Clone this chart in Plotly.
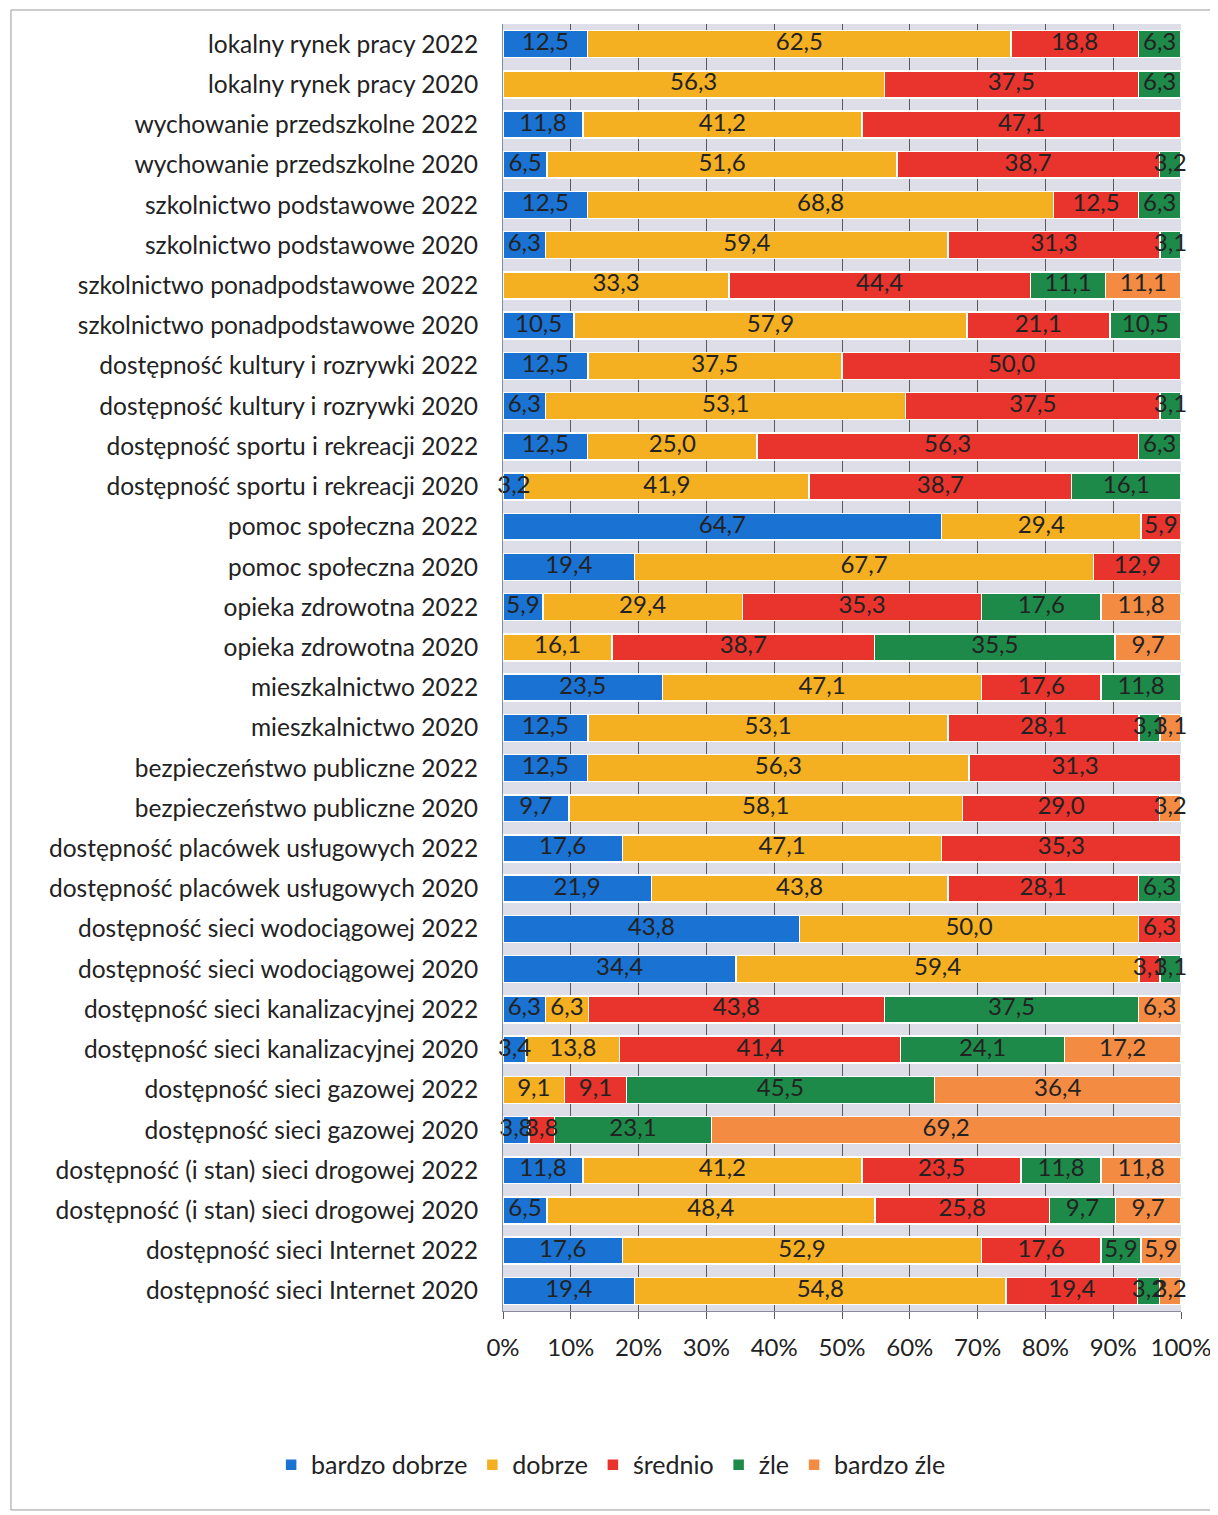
import plotly.graph_objects as go

categories = [
    "lokalny rynek pracy 2022",
    "lokalny rynek pracy 2020",
    "wychowanie przedszkolne 2022",
    "wychowanie przedszkolne 2020",
    "szkolnictwo podstawowe 2022",
    "szkolnictwo podstawowe 2020",
    "szkolnictwo ponadpodstawowe 2022",
    "szkolnictwo ponadpodstawowe 2020",
    "dostępność kultury i rozrywki 2022",
    "dostępność kultury i rozrywki 2020",
    "dostępność sportu i rekreacji 2022",
    "dostępność sportu i rekreacji 2020",
    "pomoc społeczna 2022",
    "pomoc społeczna 2020",
    "opieka zdrowotna 2022",
    "opieka zdrowotna 2020",
    "mieszkalnictwo 2022",
    "mieszkalnictwo 2020",
    "bezpieczeństwo publiczne 2022",
    "bezpieczeństwo publiczne 2020",
    "dostępność placówek usługowych 2022",
    "dostępność placówek usługowych 2020",
    "dostępność sieci wodociągowej 2022",
    "dostępność sieci wodociągowej 2020",
    "dostępność sieci kanalizacyjnej 2022",
    "dostępność sieci kanalizacyjnej 2020",
    "dostępność sieci gazowej 2022",
    "dostępność sieci gazowej 2020",
    "dostępność (i stan) sieci drogowej 2022",
    "dostępność (i stan) sieci drogowej 2020",
    "dostępność sieci Internet 2022",
    "dostępność sieci Internet 2020",
]

bardzo_dobrze = [12.5, 0, 11.8, 6.5, 12.5, 6.3, 0, 10.5, 12.5, 6.3, 12.5, 3.2, 64.7, 19.4, 5.9, 0,
                 23.5, 12.5, 12.5, 9.7, 17.6, 21.9, 43.8, 34.4, 6.3, 3.4, 0, 3.8, 11.8, 6.5, 17.6, 19.4]
dobrze = [62.5, 56.3, 41.2, 51.6, 68.8, 59.4, 33.3, 57.9, 37.5, 53.1, 25.0, 41.9, 29.4, 67.7, 29.4, 16.1,
          47.1, 53.1, 56.3, 58.1, 47.1, 43.8, 50.0, 59.4, 6.3, 13.8, 9.1, 0, 41.2, 48.4, 52.9, 54.8]
srednio = [18.8, 37.5, 47.1, 38.7, 12.5, 31.3, 44.4, 21.1, 50.0, 37.5, 56.3, 38.7, 5.9, 12.9, 35.3, 38.7,
           17.6, 28.1, 31.3, 29.0, 35.3, 28.1, 6.3, 3.1, 43.8, 41.4, 9.1, 3.8, 23.5, 25.8, 17.6, 19.4]
zle = [6.3, 6.3, 0, 3.2, 6.3, 3.1, 11.1, 10.5, 0, 3.1, 6.3, 16.1, 0, 0, 17.6, 35.5,
       11.8, 3.1, 0, 0, 0, 6.3, 0, 3.1, 37.5, 24.1, 45.5, 23.1, 11.8, 9.7, 5.9, 3.2]
bardzo_zle = [0, 0, 0, 0, 0, 0, 11.1, 0, 0, 0, 0, 0, 0, 0, 11.8, 9.7,
              0, 3.1, 0, 3.2, 0, 0, 0, 0, 6.3, 17.2, 36.4, 69.2, 11.8, 9.7, 5.9, 3.2]

series_names = ["bardzo dobrze", "dobrze", "średnio", "źle", "bardzo źle"]
series_values = [bardzo_dobrze, dobrze, srednio, zle, bardzo_zle]
series_colors = ["#1a72d2", "#f5b021", "#e8342c", "#1e8a4a", "#f38b42"]

tick_vals = [0, 10, 20, 30, 40, 50, 60, 70, 80, 90, 100]
tick_text = ["0%", "10%", "20%", "30%", "40%", "50%", "60%", "70%", "80%", "90%", "100%"]

FONT = "Lato"
TXT = "#222222"

fig = go.Figure()
for name, vals, col in zip(series_names, series_values, series_colors):
    fig.add_trace(go.Bar(
        y=categories, x=vals, name=name, orientation="h",
        marker=dict(color=col, line=dict(color="white", width=1.5)),
        hoverinfo="x+y+name",
    ))

# data labels, centred in each (normalised) segment, drawn on top of all bars
row_totals = [sum(s[i] for s in series_values) for i in range(len(categories))]
cum = [0.0] * len(categories)
for name, vals in zip(series_names, series_values):
    xs, ys, ts = [], [], []
    for i, v in enumerate(vals):
        if v > 0:
            xs.append((cum[i] + v / 2) / row_totals[i] * 100)
            ys.append(categories[i])
            ts.append(f"{v:.1f}".replace(".", ","))
        cum[i] += v
    fig.add_trace(go.Scatter(
        x=xs, y=ys, text=ts, mode="text", textposition="middle center",
        textfont=dict(family=FONT, size=24, color=TXT),
        showlegend=False, hoverinfo="skip", cliponaxis=False,
    ))

fig.update_layout(
    width=1210, height=1507,
    barmode="stack", barnorm="percent", bargap=0.33,
    paper_bgcolor="white", plot_bgcolor="#dedee8",
    margin=dict(l=495, r=37, t=16, b=204, autoexpand=False),
    font=dict(family=FONT, size=24, color=TXT),
    showlegend=True,
    legend=dict(orientation="h", x=-0.342, xanchor="left",
                y=-0.1017, yanchor="top",
                font=dict(family=FONT, size=25, color=TXT),
                itemwidth=30, traceorder="normal"),
    shapes=[dict(type="rect", xref="paper", yref="paper", x0=-0.7257, x1=1.06, y0=-0.1546, y1=1.0109,
                 line=dict(color="#9a9a9a", width=1), layer="below")],
)
fig.update_xaxes(range=[0, 100], tickvals=tick_vals, ticktext=tick_text,
                 showgrid=True, gridcolor="#5a5a5a", gridwidth=1, zeroline=False,
                 ticks="outside", ticklen=7, tickcolor="#5a5a5a",
                 showline=True, linecolor="#8a8a9a", linewidth=1,
                 tickfont=dict(family=FONT, size=24, color=TXT), ticklabelstandoff=8,
                 automargin=False, fixedrange=True)
fig.update_yaxes(range=[len(categories) - 0.5, -0.5], autorange=False,
                 showgrid=False, showline=True, linecolor="#7f8fa8", linewidth=1,
                 tickfont=dict(family=FONT, size=24.5, color=TXT), ticklabelstandoff=19,
                 ticks="", automargin=False, fixedrange=True)

fig.write_html("out.html")
